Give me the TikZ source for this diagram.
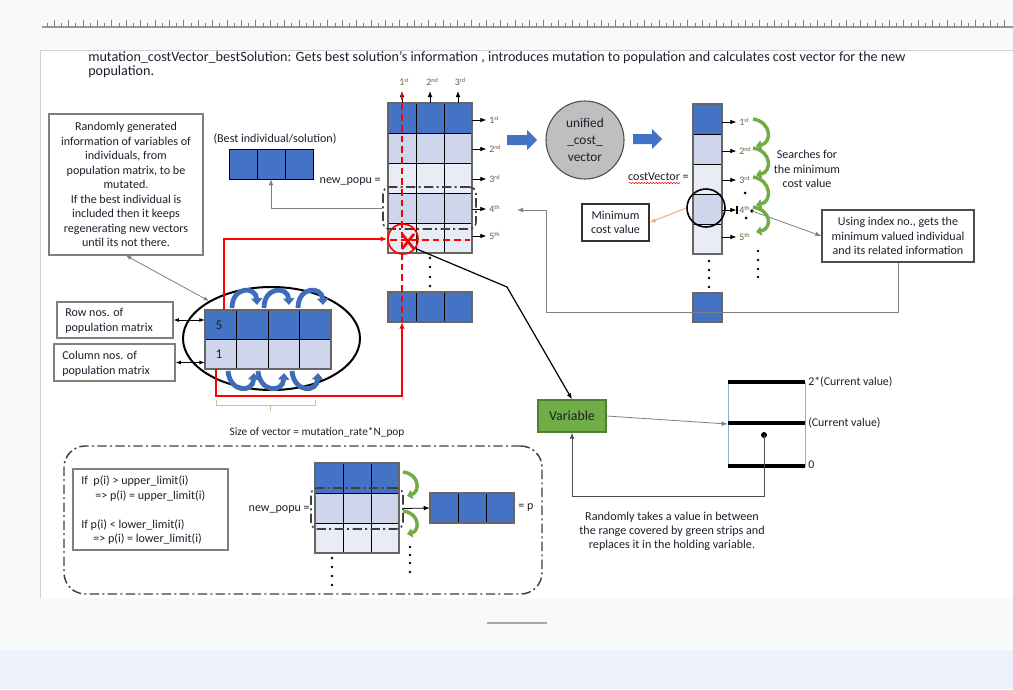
\documentclass[tikz,border=0pt]{standalone}
\usepackage{fontspec}
\setmainfont{Carlito}
\usetikzlibrary{arrows.meta,fit,shapes.geometric,decorations.pathmorphing}
\definecolor{cblue}{HTML}{4472C4}
\definecolor{cmid}{HTML}{CFD5EA}
\definecolor{clight}{HTML}{E9EBF5}
\definecolor{cgreen}{HTML}{70AD47}
\definecolor{cgreenD}{HTML}{507E32}
\definecolor{carcb}{HTML}{3F6CB8}
\definecolor{txt}{HTML}{1E1E2E}
\definecolor{ordc}{HTML}{6E5C3C}
\definecolor{pagebg}{HTML}{F8F9FB}
\definecolor{lowbg}{HTML}{EDF1F9}
\definecolor{cgray}{HTML}{BFBFBF}
\definecolor{lgray}{HTML}{7F7F7F}
\definecolor{corange}{HTML}{F4B183}
\definecolor{cbrace}{HTML}{A9D18E}
\definecolor{rangeb}{HTML}{8FAADC}
\newcommand\fsz[2]{\fontsize{#1}{#2}\selectfont}
\newcommand\ordl[2]{{\fsz{7.4}{8}\textcolor{ordc}{#1\raisebox{2.6pt}{\fsz{4.6}{5}#2}}}}
\begin{document}
\begin{tikzpicture}[x=0.75pt,y=-0.75pt,
  every node/.style={text=txt},
  arr/.style={-{Latex[length=4.5pt,width=3.5pt]},line width=0.6pt},
  garr/.style={arr,draw=lgray},
  redarr/.style={-{Latex[length=5pt,width=4pt]},line width=1.1pt,draw=red},
  dbl/.style={{Latex[length=4pt,width=3pt]}-{Latex[length=4pt,width=3pt]},line width=0.6pt},
  tbox/.style={draw=lgray,line width=0.9pt,inner sep=0pt},
  dashdot/.style={draw=black!75,line width=1.2pt,dash pattern=on 7pt off 2.5pt on 1.5pt off 2.5pt,rounded corners=5pt,inner sep=0pt},
  blueArc/.style={draw=carcb,line width=3.6pt,-{Triangle[length=5pt,width=8.5pt]}},
  greenArc/.style={draw=cgreen,line width=2.6pt,-{Triangle[length=4pt,width=7pt]}},
  cellS/.style={draw=black,line width=0.6pt},
  outerS/.style={draw=black!60,line width=1pt},
  txtA/.style={font=\fsz{9.05}{10.9},align=center,inner sep=0pt},
  small/.style={font=\fsz{9.05}{10.5},inner sep=0pt},
]
\useasboundingbox (0,0) rectangle (1013,689);
% ---------- page background ----------
\fill[pagebg] (0,0) rectangle (1013,689);
\fill[lowbg] (0,650) rectangle (1013,689);
\fill[white] (40,50) rectangle (1013,598);
\draw[black!18,line width=0.6pt] (40,598) -- (40,50) -- (1013,50);
\draw[black!40,line width=0.8pt] (42,27) -- (1013,27);
\foreach \i in {0,...,133} {
  \pgfmathsetmacro\tx{47+7.2*\i}
  \pgfmathsetmacro\th{ifthenelse(mod(\i,2)==1,7,4)}
  \draw[black!50,line width=0.5pt] (\tx,27) -- (\tx,27-\th);
}
\draw[black!35,line width=1.5pt] (487,623) -- (547,623);
% ---------- title ----------
\node[anchor=base west,inner sep=0,font=\fsz{10.6}{12}] (title1) at (88,61) {mutation\_costVector\_bestSolution: Gets best solution’s information , introduces mutation to population and calculates cost vector for the new};
\node[anchor=base west,inner sep=0,font=\fsz{10.6}{12}] (title2) at (88,75) {population.};
% ---------- main matrix ----------
\foreach \r/\c in {0/cblue,1/cmid,2/clight,3/cmid,4/clight}
  \foreach \k in {0,1,2}
    \draw[cellS,fill=\c] ({388+28*\k},{103+30*\r}) rectangle ++(28,30);
\draw[outerS] (388,103) rectangle (472,253);
\node[fit={(388,103)(472,253)},inner sep=0] (newpopu) {};
\foreach \x/\l [count=\i] in {402/{\ordl{1}{st}},430/{\ordl{2}{nd}},458/{\ordl{3}{rd}}} {
  \node[inner sep=0] (ct\i) at (\x+2,82) {\l};
  \draw[arr,shorten >=3pt] (\x,103) -- (\x,87);
}
\foreach \y/\l [count=\i] in {120/{\ordl{1}{st}},149/{\ordl{2}{nd}},179/{\ordl{3}{rd}},209/{\ordl{4}{th}},236/{\ordl{5}{th}}} {
  \node[anchor=west,inner sep=0] (rl\i) at (489,\y) {\l};
  \draw[arr,shorten >=2pt] (472,\y) -- (rl\i.west);
}
\node[dashdot,fit={(383,187)(476,229)}] (sel4) {};
% last row
\foreach \k in {0,1,2} \draw[cellS,fill=cblue] ({388+28*\k},292) rectangle ++(28,30);
\draw[outerS] (388,292) rectangle (472,322);
\node[fit={(388,292)(472,322)},inner sep=0] (lastrow) {};
\foreach \yy in {258,267,277,286} \fill (430,\yy) circle (1.3);
% best vector
\foreach \k in {0,1,2} \draw[cellS,fill=cblue] ({229+28*\k},149) rectangle ++(28,30);
\node[fit={(229,149)(313,179)},inner sep=0] (best) {};
\node[small] (bestlbl) at (275,139) {(Best individual/solution)};
\node[small,anchor=east] (nplbl) at (381,182) {new\_popu =};
\draw[garr] (sel4.west) -| (best.south);
% red marks
\draw[red,line width=1.1pt,dash pattern=on 5pt off 3pt] (402,93) -- (402,322);
\draw[red,line width=1.1pt,dash pattern=on 5pt off 3pt] (390,240) -- (470,240);
\node[circle,draw=red,line width=1.2pt,minimum size=22.5pt,inner sep=0] (xcirc) at (403,239) {};
\draw[red,line width=2pt] (402,234) -- (414,249) (414,234) -- (402,249);
% ---------- left boxes ----------
\node[tbox,fit={(49,114)(203,255)}] (lbox) {};
\node[txtA] (ltxt) at (126,184.5) {Randomly generated\\information of variables of\\individuals, from\\population matrix, to be\\mutated.\\If the best individual is\\included then it keeps\\regenerating new vectors\\until its not there.};
% small matrix + ellipse
\foreach \r/\c in {0/cblue,1/cmid}
  \foreach \k in {0,...,3}
    \draw[cellS,fill=\c] ({205+31.5*\k},{310+29.5*\r}) rectangle ++(31.5,29.5);
\draw[outerS] (205,310) rectangle (331,369);
\node[fit={(205,310)(331,369)},inner sep=0] (smat) {};
\node[font=\fsz{10}{11}] (n5) at (219,325) {5};
\node[font=\fsz{10}{11}] (n1) at (219,354) {1};
\node[ellipse,draw=black,line width=1.5pt,minimum width=132.75pt,minimum height=77.25pt,inner sep=0] (ell) at (271.5,338.5) {};
\foreach \a in {232,264,298}
  \draw[blueArc] (\a,308) .. controls (\a,286) and (\a+24,286) .. (\a+25,305);
\foreach \a in {228,258,292}
  \draw[blueArc] (\a,371) .. controls (\a+2,393) and (\a+25,393) .. (\a+26,373);
\draw[dbl,draw=lgray] (lbox.south) -- (ell.149);
\node[tbox,fit={(57,302)(173,338)}] (rowbox) {};
\node[anchor=west,align=left,inner sep=0,font=\fsz{9.05}{11.2}] (rowtxt) at (65,320.5) {Row nos. of\\population matrix};
\node[tbox,fit={(54,344)(175,381)}] (colbox) {};
\node[anchor=west,align=left,inner sep=0,font=\fsz{9.05}{11.2}] (coltxt) at (62,363.5) {Column nos. of\\population matrix};
\draw[dbl] (rowbox.east) -- (rowbox.east -| smat.west);
\draw[dbl] (colbox.east) -- (colbox.east -| smat.west);
% red paths
\draw[redarr] (224,310) -- (224,239) -- (xcirc.west);
\coordinate (lrin) at (402,322);
\draw[redarr] (216,369) -- (216,396) -- (402,396) -- (lrin);
% brace
\draw[cbrace,line width=0.7pt] (216,400) -- (216,405) -- (315,405) -- (315,400) (270,405) -- (270,411);
\node[font=\fsz{8.5}{9},inner sep=0] (sizelbl) at (317,432) {Size of vector = mutation\_rate*N\_pop};
% ---------- centre ----------
\fill[cblue] (507,135) -- (527,135) -- (527,130) -- (537,140) -- (527,150) -- (527,145) -- (507,145) -- cycle;
\node[circle,draw=black!70,fill=cgray,line width=0.8pt,minimum size=58.5pt,inner sep=0,align=center,font=\fsz{10}{12.6}] (ucv) at (585,140) {unified\\\_cost\_\\vector};
\fill[cblue] (633,134) -- (652,134) -- (652,129) -- (662,139) -- (652,149) -- (652,144) -- (633,144) -- cycle;
% cost vector
\foreach \r/\c in {0/cblue,1/cmid,2/clight,3/cmid,4/clight}
  \draw[cellS,fill=\c] (693,{104+30*\r}) rectangle ++(29,30);
\draw[outerS] (693,104) rectangle (722,254);
\node[fit={(693,104)(722,254)},inner sep=0] (cvec) {};
\draw[cellS,fill=cblue] (693,293) rectangle (722,322);
\draw[outerS] (693,293) rectangle (722,322);
\node[fit={(693,293)(722,322)},inner sep=0] (cvlast) {};
\foreach \yy in {261,270,278,287} \fill (709,\yy) circle (1.3);
\foreach \y/\l [count=\i] in {122/{\ordl{1}{st}},151/{\ordl{2}{nd}},180/{\ordl{3}{rd}},210/{\ordl{4}{th}},237/{\ordl{5}{th}}} {
  \node[anchor=west,inner sep=0] (cl\i) at (739,\y) {\l};
  \draw[arr,shorten >=2pt] (722,\y) -- (cl\i.west);
}
\draw[line width=1.6pt] (737,206) -- (737,214);
\fill (745,193) circle (1.5);
\fill (746,218) circle (1.5);
\coordinate (h4) at (752,211);
\fill (h4) circle (1.8);
\foreach \ya/\yb in {122/151,151/180,180/210,210/237}
  \draw[greenArc] (753,\ya-3) .. controls (772,\ya) and (772,\yb-8) .. (756,\yb-5);
\foreach \yy in {251,260,269,277} \fill (758,\yy) circle (1.3);
\node[circle,draw=black,line width=1.2pt,minimum size=28.5pt,inner sep=0] (mincirc) at (706,208) {};
\node[tbox,draw=black!80,fit={(582,204)(649,241)}] (minbox) {};
\node[txtA,font=\fsz{9.05}{10.6}] (mintxt) at (minbox.center) {Minimum\\cost value};
\draw[corange,-{Latex[length=4.5pt,width=3.5pt]},line width=0.8pt] (mincirc.west) -- (minbox.east);
\node[anchor=east,small] (cvlbl) at (689,177) {costVector =};
\draw[red,decorate,decoration={snake,amplitude=0.5pt,segment length=2.2pt},line width=0.4pt] (629,183) -- (680,183);
\node[txtA,font=\fsz{9.05}{11}] (srch) at (807,169) {Searches for\\the minimum\\cost value};
\node[tbox,draw=black!70,fit={(822,210)(974,262)}] (uibox) {};
\node[txtA] (uitxt) at (uibox.center) {Using index no., gets the\\minimum valued individual\\and its related information};
\draw[garr] (h4) -- (uibox.west);
\coordinate (p4in) at (517,210);
\draw[garr] (uibox.south) -- (898,312) -- (546,312) -- (546,210) -- (p4in);
% ---------- variable and range ----------
\node[fit={(538,400)(606,432)},inner sep=0,draw=cgreenD,fill=cgreen,line width=1pt] (var) {};
\node[font=\fsz{10.4}{11}] (vartxt) at (var.center) {Variable};
\draw[arr,line width=0.9pt] (xcirc.-37) -- (507,287) -- (var.north);
\node[fit={(728,382)(805,466)},inner sep=0,draw=rangeb,line width=0.6pt] (range) {};
\draw[line width=3pt] (728,382) -- (805,382) (728,423) -- (805,423) (728,466) -- (805,466);
\node[anchor=west,inner sep=0,font=\fsz{8.9}{9}] (l2) at (808,382) {2*(Current value)};
\node[anchor=west,inner sep=0,font=\fsz{8.9}{9}] (l1) at (808,423) {(Current value)};
\node[anchor=west,inner sep=0,font=\fsz{8.9}{9}] (l0) at (808,465) {0};
\draw[garr] (var.east) -- (range.west);
\coordinate (rdot) at (764,435);
\fill (rdot) circle (3);
\draw[arr,draw=black!70] (rdot) -- (764,496) -- (572,496) -- (var.south);
\node[txtA,font=\fsz{9.1}{10.5}] (rtxt) at (672,531) {Randomly takes a value in between\\the range covered by green strips and\\replaces it in the holding variable.};
% ---------- bottom region ----------
\node[dashdot,rounded corners=16pt,line width=1.1pt,fit={(64,446)(542,594)}] (bbox) {};
\node[tbox,fit={(73,469)(228,550)}] (limbox) {};
\node[anchor=west,small] (c1) at (81,481) {If~ p(i) > upper\_limit(i)};
\node[anchor=west,small] (c2) at (95,496) {=> p(i) = upper\_limit(i)};
\node[anchor=west,small] (c3) at (81,525) {If p(i) < lower\_limit(i)};
\node[anchor=west,small] (c4) at (93,539) {=> p(i) = lower\_limit(i)};
\foreach \r/\c in {0/cblue,1/cmid,2/clight}
  \foreach \k in {0,1,2}
    \draw[cellS,fill=\c] ({315+28*\k},{463+30*\r}) rectangle ++(28,30);
\draw[outerS] (315,463) rectangle (399,553);
\node[fit={(315,463)(399,553)},inner sep=0] (bmat) {};
\node[dashdot,fit={(311,488)(403,529)}] (sel2) {};
\node[anchor=east,small] (nplbl2) at (310,510) {new\_popu =};
\draw[greenArc] (403,472) .. controls (420,474) and (420,492) .. (407,496);
\draw[greenArc] (403,511) .. controls (420,513) and (420,531) .. (407,534);
\foreach \k in {0,1,2} \draw[cellS,fill=cblue] ({430+28*\k},493) rectangle ++(28,30);
\draw[outerS] (430,493) rectangle (514,523);
\node[fit={(430,493)(514,523)},inner sep=0] (pvec) {};
\draw[arr] (sel2.east) -- (pvec.west);
\node[anchor=west,small] (plbl) at (518,508) {= p};
\foreach \yy in {558,567,576,585} \fill (332,\yy) circle (1.3);
\foreach \yy in {547,555,563,572} \fill (410,\yy) circle (1.3);
\end{tikzpicture}
\end{document}
